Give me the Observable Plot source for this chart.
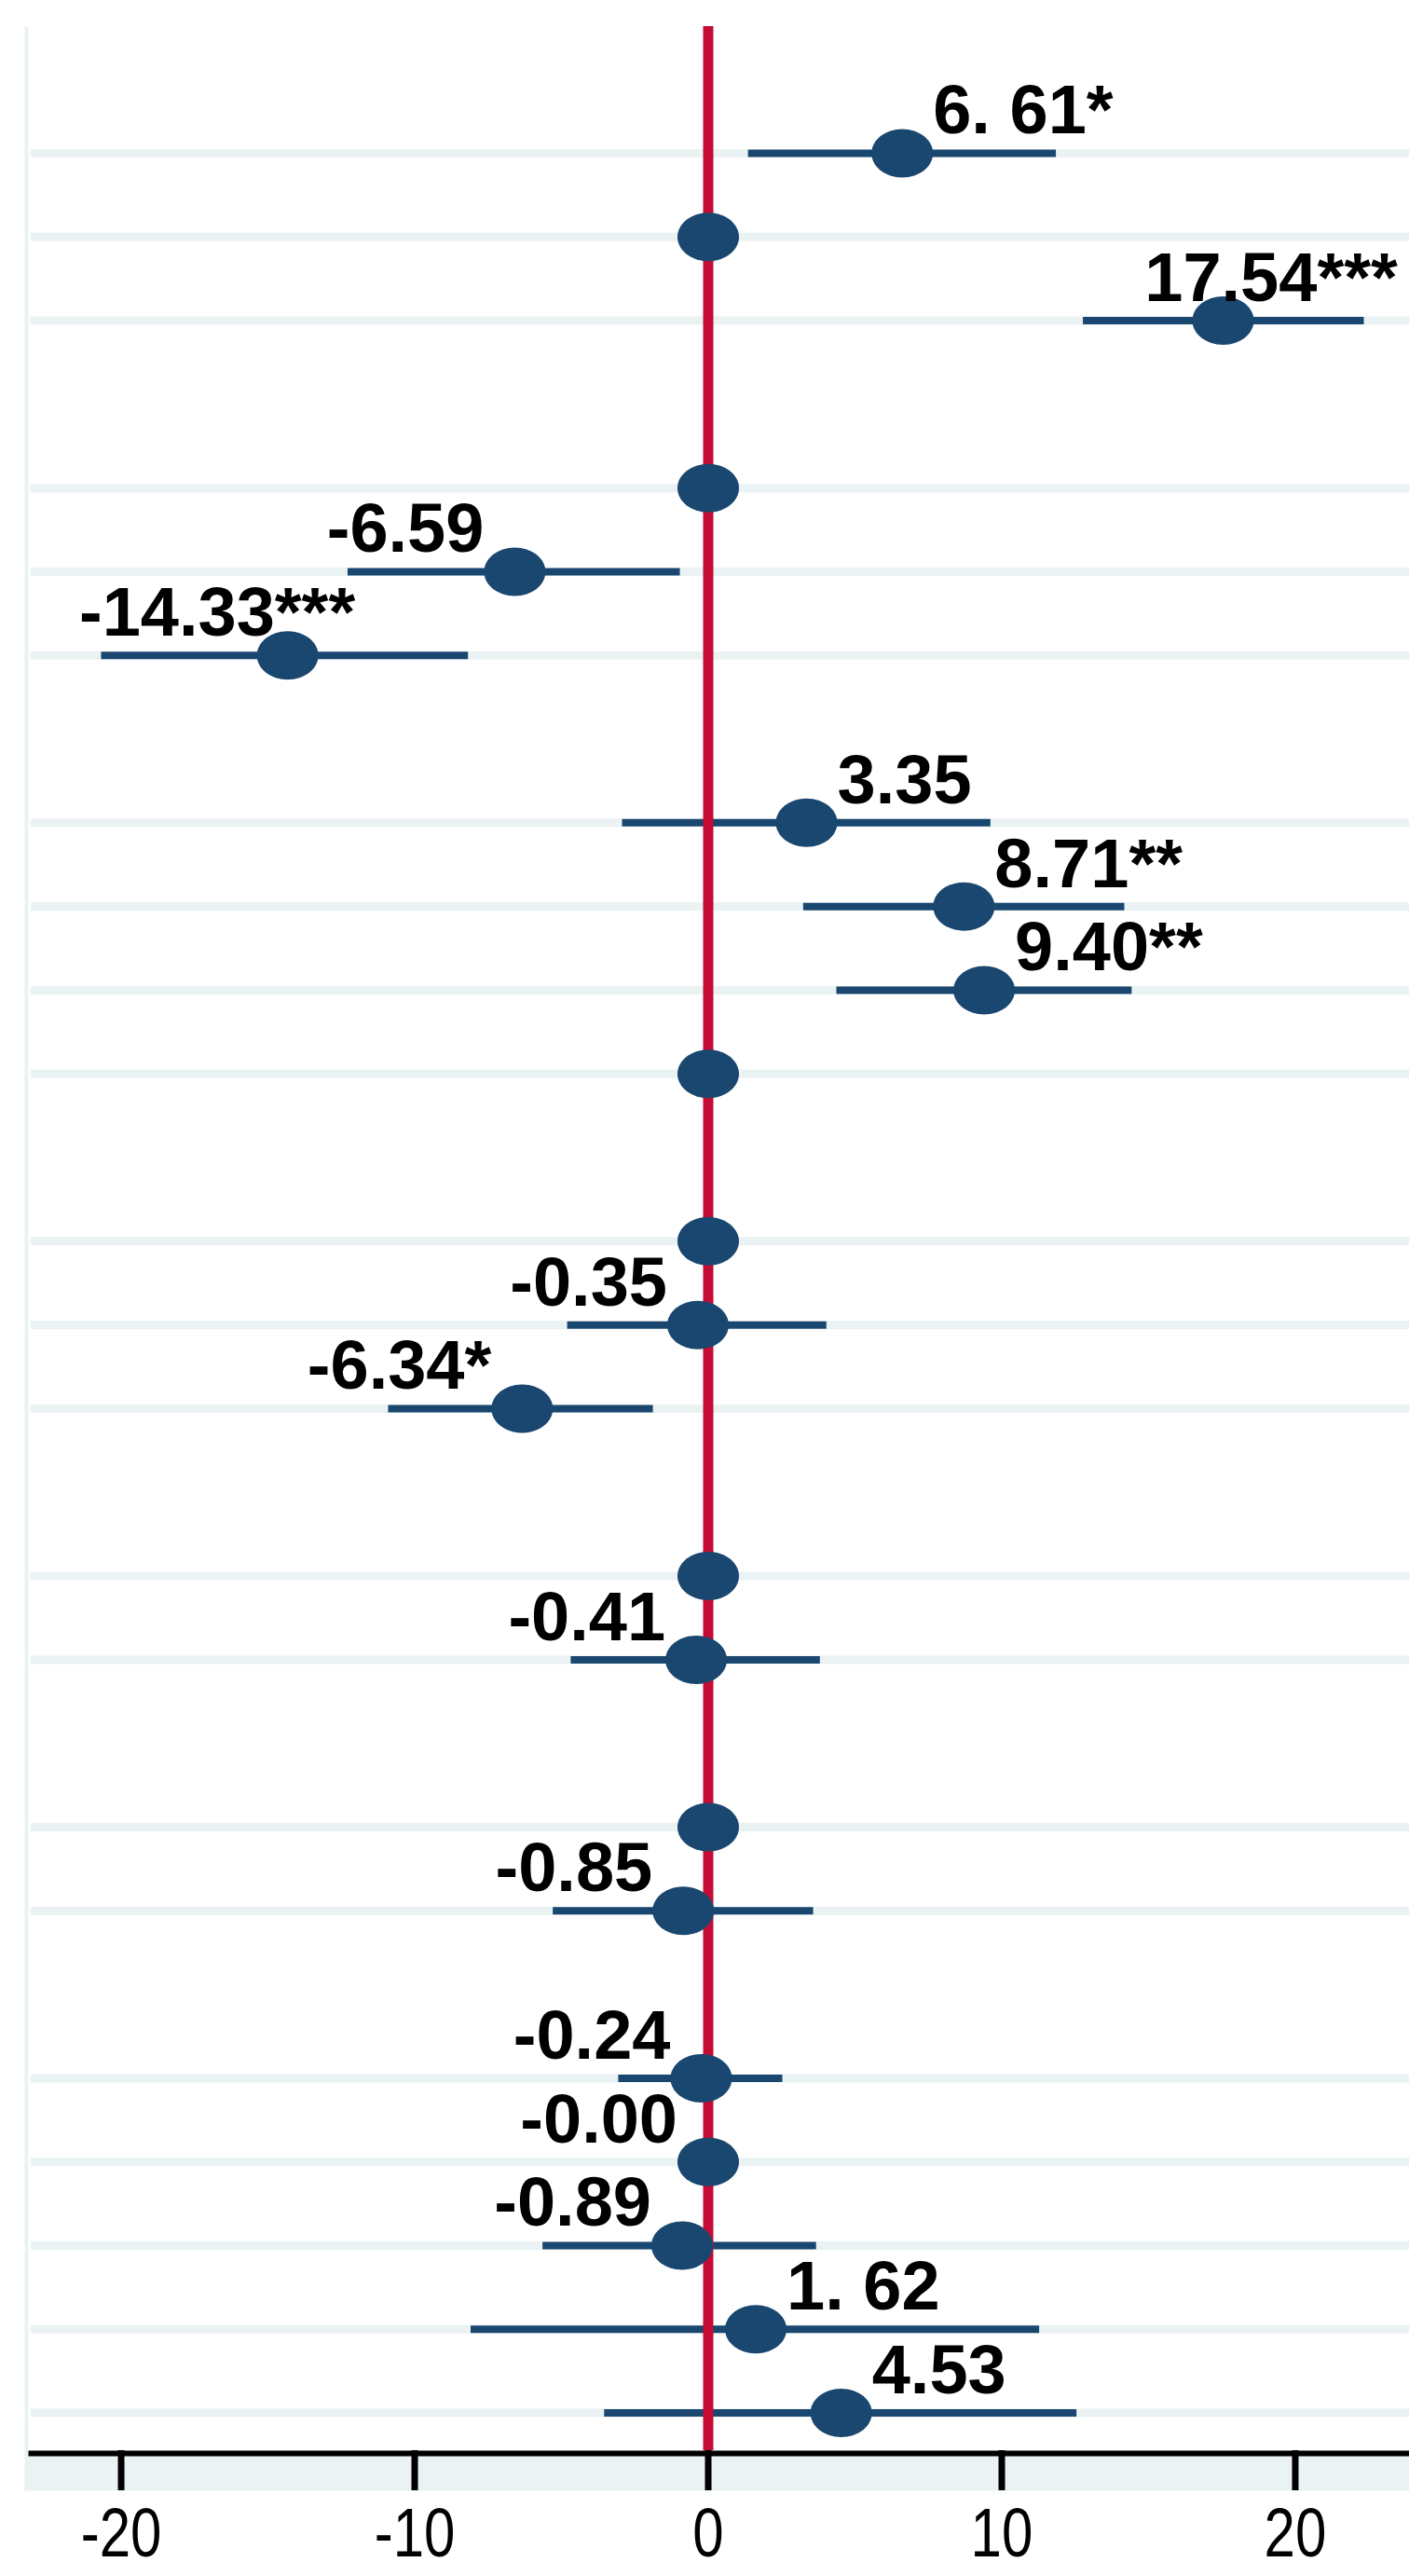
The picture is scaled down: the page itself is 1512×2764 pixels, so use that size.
<!DOCTYPE html>
<html>
<head>
<meta charset="utf-8">
<script src="https://cdn.jsdelivr.net/npm/d3@7"></script>
<script src="https://cdn.jsdelivr.net/npm/@observablehq/plot@0.6"></script>
<style>
  html, body { margin: 0; padding: 0; background: #ffffff; }
  #chart svg { display: block; }
</style>
</head>
<body>
<div id="chart"></div>
<script>
// ---- data ----
// row index (position from top; missing indices are gap rows)
const rowIndex = [0, 1, 2, 4, 5, 6, 8, 9, 10, 11, 13, 14, 15, 17, 18, 20, 21, 23, 24, 25, 26, 27];
const coefValues = [6.61, 0, 17.54, 0, -6.59, -14.33, 3.35, 8.71, 9.40, 0, 0, -0.35, -6.34, 0, -0.41, 0, -0.85, -0.24, -0.00, -0.89, 1.62, 4.53];
const ciLow  = [1.37, null, 12.78, null, -12.27, -20.67, -2.92, 3.25, 4.38, null, null, -4.79, -10.89, null, -4.67, null, -5.28, -3.05, null, -5.63, -8.08, -3.53];
const ciHigh = [11.86, null, 22.35, null, -0.95, -8.17, 9.63, 14.19, 14.44, null, null, 4.04, -1.87, null, 3.82, null, 3.59, 2.54, null, 3.69, 11.29, 12.56];
const pointLabels = ["6. 61*", "", "17.54***", "", "-6.59", "-14.33***", "3.35", "8.71**", "9.40**", "", "", "-0.35", "-6.34*", "", "-0.41", "", "-0.85", "-0.24", "-0.00", "-0.89", "1. 62", "4.53"];
const xTicks = [-20, -10, 0, 10, 20];
const xTickLabels = ["-20", "-10", "0", "10", "20"];

// ---- table built from the arrays ----
const data = rowIndex.map((r, i) => ({
  row: r, coef: coefValues[i], lo: ciLow[i], hi: ciHigh[i], label: pointLabels[i]
}));
const withCI = data.filter(d => d.lo != null);
const labelled = data.filter(d => d.label !== "");
const leftLabels = labelled.filter(d => d.label.startsWith("-"));
const rightLabels = labelled.filter(d => !d.label.startsWith("-"));

// ---- styles ----
const navy = "#1a476f";
const red = "#c60c35";
const light = "#eaf2f3";
const labelFont = "'Liberation Sans', Arial, sans-serif";
const tickFont = "'Liberation Sans', Arial, sans-serif";

// ellipse symbol (wider than tall)
const ellipse = {
  draw(context, size) {
    const r = Math.sqrt(size / Math.PI);
    const rx = r * 33 / 26, ry = r, k = 0.5523;
    context.moveTo(rx, 0);
    context.bezierCurveTo(rx, ry * k, rx * k, ry, 0, ry);
    context.bezierCurveTo(-rx * k, ry, -rx, ry * k, -rx, 0);
    context.bezierCurveTo(-rx, -ry * k, -rx * k, -ry, 0, -ry);
    context.bezierCurveTo(rx * k, -ry, rx, -ry * k, rx, 0);
    context.closePath();
  }
};

const chart = Plot.plot({
  width: 1512,
  height: 2764,
  marginLeft: 30,
  marginRight: 0,
  marginTop: 28,
  marginBottom: 135,
  style: { background: "white", overflow: "hidden" },
  x: { domain: [-23.16, 23.89] },
  y: { domain: [-1.514, 27.45], reverse: true, axis: null },
  marks: [
    Plot.frame({ fill: light, stroke: null, insetLeft: -4, insetBottom: -43 }),
    Plot.frame({ fill: "white", stroke: null }),
    Plot.ruleY(data, { y: "row", stroke: light, strokeWidth: 9, insetLeft: 3 }),
    Plot.ruleY(withCI, { y: "row", x1: "lo", x2: "hi", stroke: navy, strokeWidth: 8 }),
    Plot.ruleX([0], { stroke: red, strokeWidth: 11 }),
    Plot.dot(data, { x: "coef", y: "row", r: 26, symbol: ellipse, fill: navy, stroke: null }),
    Plot.text(rightLabels, {
      x: "coef", y: "row", text: "label", textAnchor: "start", lineAnchor: "bottom",
      dx: 33, dy: -21, fontSize: 74, fontWeight: "bold", fontFamily: labelFont, fill: "black"
    }),
    Plot.text(leftLabels, {
      x: "coef", y: "row", text: "label", textAnchor: "end", lineAnchor: "bottom",
      dx: -33, dy: -21, fontSize: 74, fontWeight: "bold", fontFamily: labelFont, fill: "black"
    }),
    Plot.frame({ anchor: "bottom", stroke: "black", strokeWidth: 6, insetBottom: -3, insetLeft: 3 }),
    Plot.axisX({
      ticks: xTicks,
      tickFormat: (d) => xTickLabels[xTicks.indexOf(d)],
      tickSize: 43, tickPadding: 17,
      stroke: "black", strokeWidth: 7,
      fontSize: 75, fontFamily: tickFont, fill: "black",
      label: null
    })
  ]
});
document.getElementById("chart").appendChild(chart);

// narrow the tick labels (condensed look of the reference)
d3.select(chart).selectAll("g[aria-label='x-axis tick label'] text").each(function () {
  const tr = this.getAttribute("transform") || "";
  const xa = this.getAttribute("x");
  if (xa !== null && !isNaN(+xa) && +xa !== 0) {
    this.setAttribute("transform", `${tr} translate(${+xa},0) scale(0.8,1)`);
    this.setAttribute("x", 0);
  } else {
    this.setAttribute("transform", `${tr} scale(0.8,1)`);
  }
});

// keep value labels inside the plotting region (as in the reference)
const svgRect = chart.getBoundingClientRect();
d3.select(chart).selectAll("g[aria-label='text'] text").each(function () {
  const b = this.getBoundingClientRect();
  const left = b.left - svgRect.left, right = b.right - svgRect.left;
  let shift = 0;
  if (left < 85) shift = 85 - left;
  else if (right > 1500) shift = 1500 - right;
  if (shift !== 0) {
    const tr = this.getAttribute("transform") || "";
    this.setAttribute("transform", `translate(${shift},0) ${tr}`);
  }
});
</script>
</body>
</html>
